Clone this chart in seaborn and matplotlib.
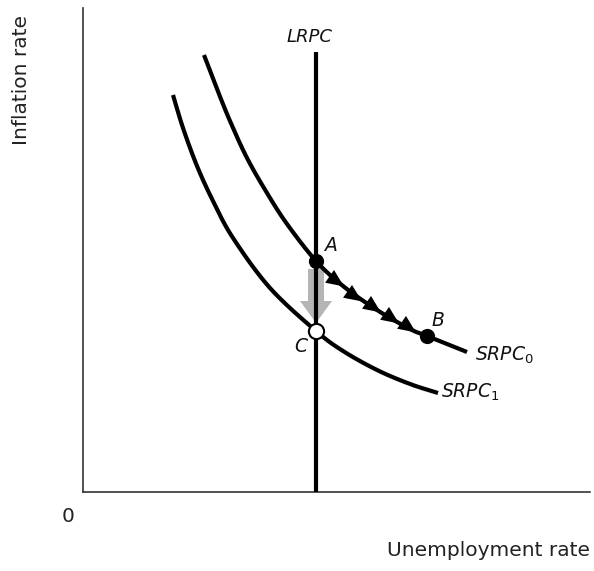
import numpy as np
import pandas as pd
import matplotlib
matplotlib.use("Agg")
import matplotlib.pyplot as plt
import seaborn as sns

# ---- data (chart units; origin at the axes corner) ----
srpc0_x = [121, 134, 147, 164, 184, 204, 233, 260, 294, 327, 344, 384]
srpc0_y = [437, 403, 371, 334, 299, 268, 231, 206, 182, 163, 156, 140]
srpc1_x = [90, 100, 114, 130, 150, 187, 233, 260, 294, 327, 355]
srpc1_y = [397, 364, 326, 291, 254, 204, 161, 141, 122, 108, 99]
lrpc_x = [233, 233]
lrpc_y = [0, 440]
point_names = ["A", "B", "C"]
point_x = [233, 344, 233]
point_y = [231, 156, 161]
arrowhead_x = [252, 270, 289, 307, 324]
arrowhead_y = [212, 197, 186, 175, 166]
curve_labels = ["SRPC", "SRPC"]
curve_subs = ["0", "1"]


def smooth(xs, ys, n=20):
    """Catmull-Rom rendering through the read points."""
    p = np.column_stack([xs, ys]).astype(float)
    p = np.vstack([2 * p[0] - p[1], p, 2 * p[-1] - p[-2]])
    out = []
    t = np.linspace(0, 1, n, endpoint=False)[:, None]
    for i in range(1, len(p) - 2):
        p0, p1, p2, p3 = p[i - 1], p[i], p[i + 1], p[i + 2]
        seg = 0.5 * ((2 * p1) + (-p0 + p2) * t + (2 * p0 - 5 * p1 + 4 * p2 - p3) * t ** 2
                     + (-p0 + 3 * p1 - 3 * p2 + p3) * t ** 3)
        out.append(seg)
    out.append(p[-2][None, :])
    out = np.vstack(out)
    return pd.DataFrame({"x": out[:, 0], "y": out[:, 1]})


sns.set_theme(style="white")
plt.rcParams["font.family"] = ["DejaVu Sans"]
plt.rcParams["mathtext.fontset"] = "dejavusans"

W, H = 594, 571
fig = plt.figure(figsize=(W / 100, H / 100), dpi=100)
ax = fig.add_axes([83 / W, (H - 492) / H, 507 / W, 484 / H])
ax.set_xlim(0, 507)
ax.set_ylim(0, 484)

lw = 3.0
df0 = smooth(srpc0_x, srpc0_y)
df1 = smooth(srpc1_x, srpc1_y)
dfl = pd.DataFrame({"x": lrpc_x, "y": lrpc_y})

# gray arrow from A to C (behind LRPC)
ax.arrow(point_x[0], point_y[0] - 8, 0, (point_y[2] + 8) - (point_y[0] - 8),
         width=16, head_width=32, head_length=22, length_includes_head=True,
         color="#b5b5b5", lw=0, zorder=1)

for d, z in [(df0, 2), (df1, 2), (dfl, 3)]:
    sns.lineplot(data=d, x="x", y="y", sort=False, estimator=None, color="black",
                 lw=lw, ax=ax, zorder=z, solid_capstyle="butt")

# arrowheads along SRPC0
ang = np.deg2rad(-35)
base = np.array([[1.0, 0.0], [-0.7, 0.75], [-0.7, -0.75], [1.0, 0.0]])
rot = np.array([[np.cos(ang), -np.sin(ang)], [np.sin(ang), np.cos(ang)]])
verts = base @ rot.T
ax.scatter(arrowhead_x, arrowhead_y, marker=verts, s=230, color="black",
           linewidths=0, zorder=4)

# points
ax.scatter(point_x[:2], point_y[:2], s=120, color="black", zorder=5, linewidths=0)
ax.scatter(point_x[2:], point_y[2:], s=120, color="white", edgecolor="black",
           linewidths=1.5, zorder=5)

fs = 13.5
ax.text(point_x[0] + 9, point_y[0] + 6, point_names[0], style="italic",
        fontsize=fs, ha="left", va="bottom", color="#111111")
ax.text(point_x[1] + 5, point_y[1] + 6, point_names[1], style="italic",
        fontsize=fs, ha="left", va="bottom", color="#111111")
ax.text(point_x[2] - 9, point_y[2] - 6, point_names[2], style="italic",
        fontsize=fs, ha="right", va="top", color="#111111")
ax.text(lrpc_x[1] - 6, lrpc_y[1] + 6, "LRPC", style="italic", fontsize=fs - 0.5,
        ha="center", va="bottom", color="#111111")
ax.text(srpc0_x[-1] + 8, srpc0_y[-1] - 3,
        r"$\mathit{%s}_{\mathrm{%s}}$" % (curve_labels[0], curve_subs[0]),
        fontsize=fs, ha="left", va="center", color="#111111")
ax.text(srpc1_x[-1] + 3, srpc1_y[-1] + 1,
        r"$\mathit{%s}_{\mathrm{%s}}$" % (curve_labels[1], curve_subs[1]),
        fontsize=fs, ha="left", va="center", color="#111111")

# axes styling
for s in ["top", "right"]:
    ax.spines[s].set_visible(False)
for s in ["left", "bottom"]:
    ax.spines[s].set_color("#333333")
    ax.spines[s].set_linewidth(1.2)
ax.set_xticks([])
ax.set_yticks([])
ax.set_xlabel("")
ax.set_ylabel("")

fig.text(590 / W, 1 - 551 / H, "Unemployment rate", fontsize=14.5, ha="right",
         va="center", color="#222222")
fig.text(22 / W, 1 - 80 / H, "Inflation rate", fontsize=14.5, rotation=90,
         ha="center", va="center", color="#222222")
fig.text(68 / W, 1 - 517 / H, "0", fontsize=14.5, ha="center", va="center",
         color="#222222")

fig.savefig("out.png", dpi=100)
